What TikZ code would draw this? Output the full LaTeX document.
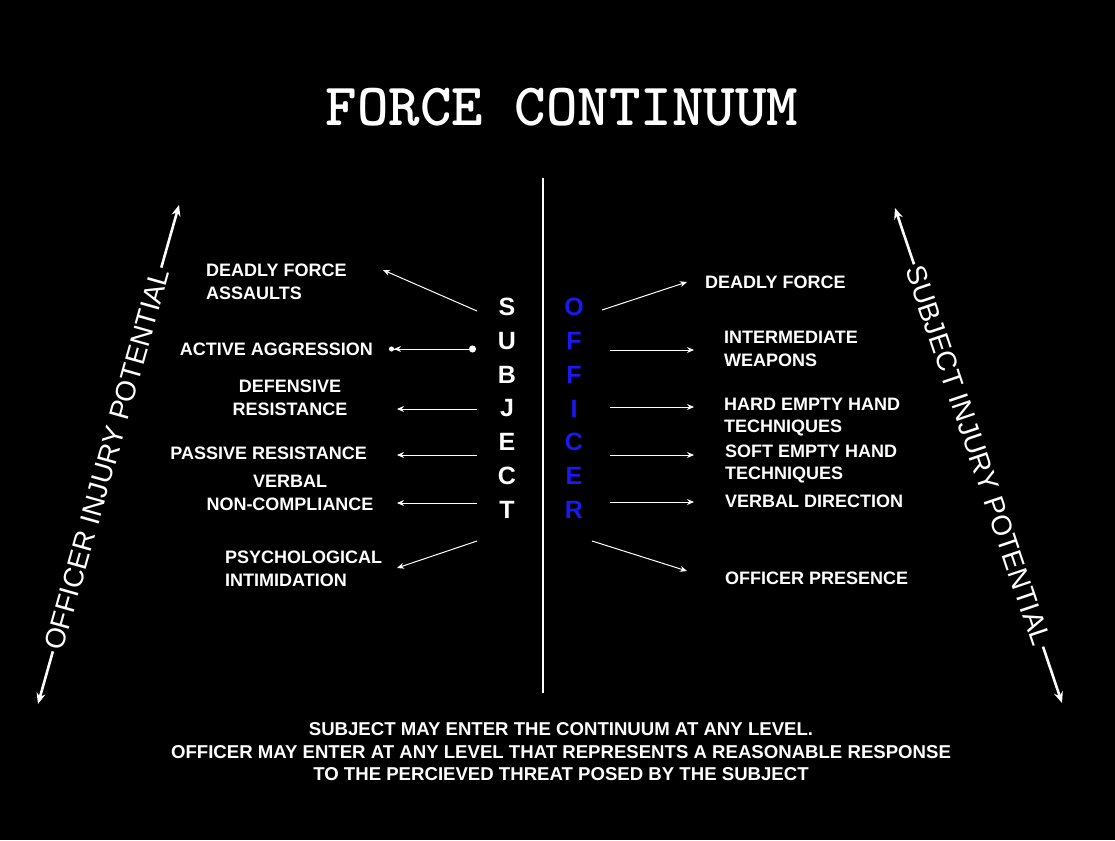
\documentclass[tikz,border=0pt]{standalone}
\usepackage{fontspec}
\setmainfont{Liberation Sans}
\usetikzlibrary{arrows.meta}
\definecolor{officerblue}{RGB}{25,25,240}

\tikzset{
  item/.style={text=white, inner sep=0pt, font=\bfseries\fontsize{18}{22.5}\selectfont},
  letter/.style={inner sep=0pt, font=\bfseries\fontsize{25}{25}\selectfont},
  link/.style={white, line width=1pt, -{Stealth[length=7pt,width=6pt]}},
  axisline/.style={white, line width=2.6pt, {Stealth[length=11pt,width=9pt]}-{Stealth[length=11pt,width=9pt]}},
  axislabel/.style={text=white, fill=black, inner sep=2pt, font=\fontsize{28}{28}\selectfont},
}

\begin{document}
\begin{tikzpicture}[x=1pt,y=-1pt]
	\fill[black] (0,0) rectangle (1115,840);
	\node[text=white, font=\ttfamily\bfseries\fontsize{60}{60}\selectfont] (title) at (562,107) {FORCE CONTINUUM};
	% centre line
	\coordinate (top) at (543,178);
	\coordinate (bottom) at (543,693);
	\draw[white, line width=2pt] (top) -- (bottom);
	% the two words
	\foreach \ch [count=\i] in {S,U,B,J,E,C,T}
		\node[letter, text=white] (s\i) at (507,{307+33.8*(\i-1)}) {\ch};
	\foreach \ch [count=\i] in {O,F,F,I,C,E,R}
		\node[letter, text=officerblue] (o\i) at (574,{307+33.8*(\i-1)}) {\ch};
	% subject side
	\node[item, anchor=west, align=left] (assault) at (206,282) {DEADLY FORCE\\ASSAULTS};
	\node[item, anchor=east] (active) at (373,349) {ACTIVE AGGRESSION};
	\node[item, align=center] (defensive) at (290,398) {DEFENSIVE\\RESISTANCE};
	\node[item, anchor=east] (passive) at (367,453) {PASSIVE RESISTANCE};
	\node[item, align=center] (noncomp) at (290,493) {VERBAL\\NON-COMPLIANCE};
	\node[item, anchor=west, align=left] (psych) at (225,569) {PSYCHOLOGICAL\\INTIMIDATION};
	% officer side
	\node[item, anchor=west] (deadly) at (705,282) {DEADLY FORCE};
	\node[item, anchor=west, align=left] (weapons) at (724,349) {INTERMEDIATE\\WEAPONS};
	\node[item, anchor=west, align=left] (hard) at (724,417) {HARD EMPTY HAND\\TECHNIQUES};
	\node[item, anchor=west, align=left] (soft) at (725,464) {SOFT EMPTY HAND\\TECHNIQUES};
	\node[item, anchor=west] (direction) at (725,501) {VERBAL DIRECTION};
	\node[item, anchor=west] (presence) at (725,578) {OFFICER PRESENCE};
	% arrow ends
	\coordinate (sa) at (477,311); \coordinate (sa') at (383,270);
	\coordinate (sb) at (476,349); \coordinate (sb') at (389,349);
	\coordinate (sc) at (477,409); \coordinate (sc') at (397,409);
	\coordinate (sd) at (477,455); \coordinate (sd') at (397,455);
	\coordinate (se) at (477,503); \coordinate (se') at (397,503);
	\coordinate (sf) at (477,541); \coordinate (sf') at (397,568);
	\coordinate (oa) at (602,310); \coordinate (oa') at (687,282);
	\coordinate (ob) at (610,350); \coordinate (ob') at (694,350);
	\coordinate (oc) at (610,407); \coordinate (oc') at (694,407);
	\coordinate (od) at (610,455); \coordinate (od') at (694,455);
	\coordinate (oe) at (610,502); \coordinate (oe') at (694,502);
	\coordinate (of) at (592,541); \coordinate (of') at (687,571);
	\draw[link] (sa) -- (sa');
	\draw[link, {Circle[length=7pt]}-{Stealth[length=7pt,width=6pt] Circle[length=5pt]}] (sb) -- (sb');
	\draw[link] (sc) -- (sc');
	\draw[link] (sd) -- (sd');
	\draw[link] (se) -- (se');
	\draw[link] (sf) -- (sf');
	\foreach \k in {a,b,c,d,e,f}
		\draw[link] (o\k) -- (o\k');
	% injury potential axes
	\coordinate (lo) at (38,704); \coordinate (hi) at (179,205);
	\draw[axisline] (lo) -- node[axislabel, sloped, pos=0.49] (officerinj) {OFFICER INJURY POTENTIAL} (hi);
	\coordinate (hi2) at (895,208); \coordinate (lo2) at (1062,703);
	\draw[axisline] (hi2) -- node[axislabel, sloped] (subjectinj) {SUBJECT INJURY POTENTIAL} (lo2);
	% note
	\node[item, align=center, font=\bfseries\fontsize{18.6}{22.5}\selectfont] (note) at (561,752) {SUBJECT MAY ENTER THE CONTINUUM AT ANY LEVEL.\\OFFICER MAY ENTER AT ANY LEVEL THAT REPRESENTS A REASONABLE RESPONSE\\TO THE PERCIEVED THREAT POSED BY THE SUBJECT};
\end{tikzpicture}
\end{document}
